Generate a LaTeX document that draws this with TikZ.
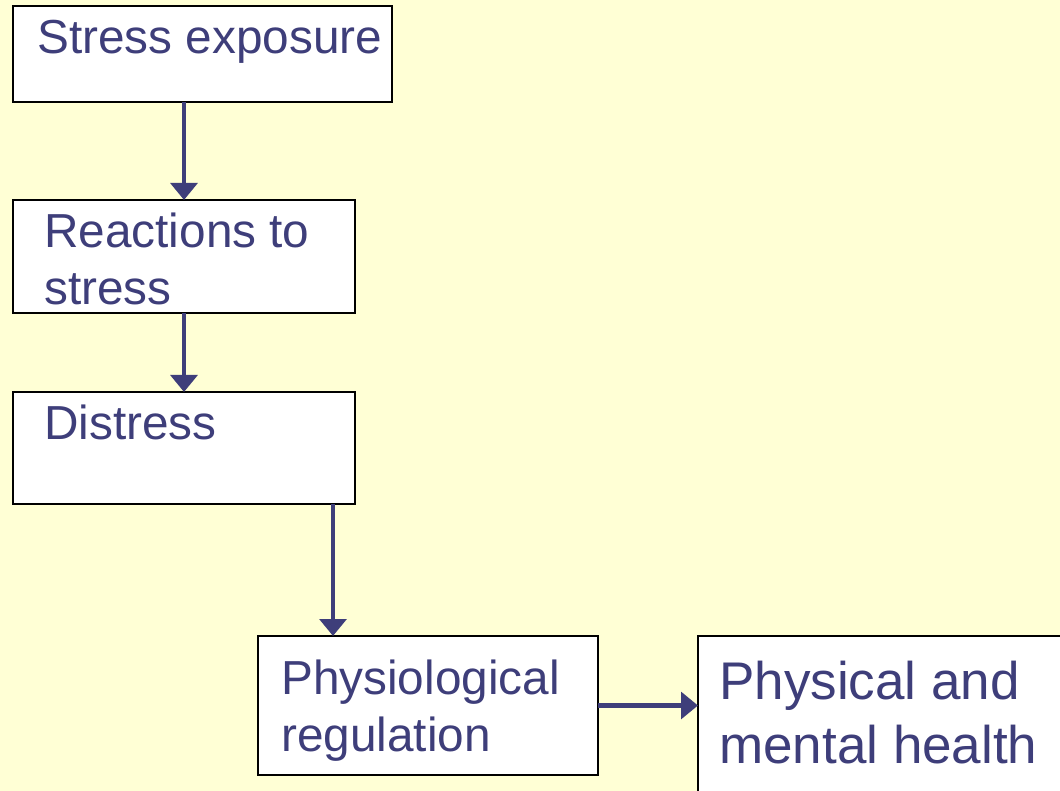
\documentclass[tikz,border=0pt]{standalone}
\usepackage{fontspec}
\setmainfont{Liberation Sans}
\usepackage{tikz}
\usetikzlibrary{calc}
\usetikzlibrary{arrows.meta}
\usetikzlibrary{positioning}
\definecolor{slide}{RGB}{255,255,213}
\definecolor{ink}{RGB}{62,62,122}
\newcommand{\boxfont}{\fontsize{35.8pt}{42.75pt}\selectfont}
\newcommand{\bigboxfont}{\fontsize{39.75pt}{48pt}\selectfont}

\begin{document}
\begin{tikzpicture}[
x=0.75pt, y=-0.75pt,
MyBox/.style={draw=black,fill=white,line width=1.1pt,anchor=north west,inner sep=0pt,outer sep=0pt},
MyText/.style={text=ink,anchor=base west,inner sep=0pt,align=left,font=\boxfont},
Flow/.style={draw=ink,line width=3.6pt,-{Triangle[length=12.75pt,width=20pt]}}
]
%\grid;
\fill[slide] (0,0) rectangle (1060,791);
\clip (0,0) rectangle (1060,791);

\node[MyBox,minimum width=284.25pt,minimum height=72pt] (exposure) at (13,6) {};
\node[MyBox,minimum width=256.5pt,minimum height=84.75pt] (reactions) at (13,200) {};
\node[MyBox,minimum width=256.5pt,minimum height=84pt] (distress) at (13,392) {};
\node[MyBox,minimum width=255pt,minimum height=104.25pt] (physio) at (258,636) {};
\node[MyBox,minimum width=300pt,minimum height=150pt] (health) at (698,636) {};

% base anchor sits on the last line
\node[MyText] (exposureText) at (37,54) {Stress exposure};
\node[MyText] (reactionsText) at (44,305) {Reactions to\\stress};
\node[MyText] (distressText) at (44,439) {Distress};
\node[MyText] (physioText) at (281,751) {Physiological\\regulation};
\node[MyText,font=\bigboxfont] (healthText) at (719,763) {Physical and\\mental health};

\coordinate (drop) at (333,504);

\draw[Flow] (exposure.south -| reactions.north) -- (reactions.north);

\draw[Flow] (reactions.south) -- (distress.north);

\draw[Flow] (drop) -- (drop |- physio.north);

\draw[Flow] (physio.east) -- (physio.east -| health.west);

\end{tikzpicture}
\end{document}
